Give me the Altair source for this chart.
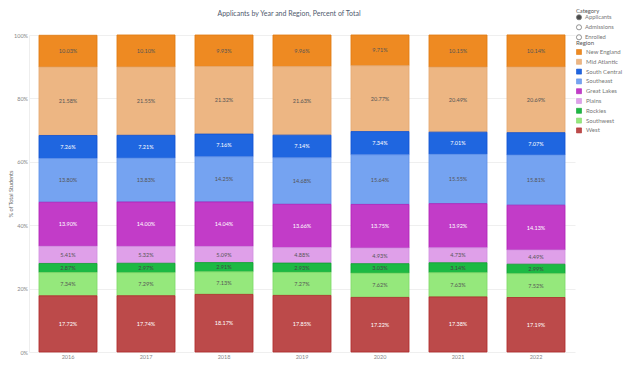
import altair as alt
import pandas as pd

years = ["2016", "2017", "2018", "2019", "2020", "2021", "2022"]
regions = ["New England", "Mid Atlantic", "South Central", "Southeast",
           "Great Lakes", "Plains", "Rockies", "Southwest", "West"]
colors = ["#EE8A22", "#EDB683", "#1F66E0", "#75A3F1", "#C23CC8",
          "#DFA0E9", "#1DB944", "#95E87C", "#BC4A4A"]
borders = ["#E07A10", "#E3A870", "#1050D0", "#6090E8", "#B020B8",
           "#D090E0", "#10A030", "#80D868", "#B02A2A"]
text_colors = ["#555555", "#555555", "#FFFFFF", "#555555", "#FFFFFF",
               "#555555", "#444444", "#555555", "#FFFFFF"]

new_england   = [10.03, 10.10, 9.93, 9.96, 9.71, 10.15, 10.14]
mid_atlantic  = [21.58, 21.55, 21.32, 21.63, 20.77, 20.49, 20.69]
south_central = [7.26, 7.21, 7.16, 7.14, 7.34, 7.01, 7.07]
southeast     = [13.80, 13.83, 14.25, 14.68, 15.64, 15.55, 15.81]
great_lakes   = [13.90, 14.00, 14.04, 13.66, 13.75, 13.92, 14.13]
plains        = [5.41, 5.32, 5.09, 4.88, 4.93, 4.73, 4.49]
rockies       = [2.87, 2.97, 2.91, 2.93, 3.03, 3.14, 2.99]
southwest     = [7.34, 7.29, 7.13, 7.27, 7.62, 7.63, 7.52]
west          = [17.72, 17.74, 18.17, 17.85, 17.22, 17.38, 17.19]

series = [new_england, mid_atlantic, south_central, southeast, great_lakes,
          plains, rockies, southwest, west]

categories = ["Applicants", "Admissions", "Enrolled"]

rows = []
for i, (r, vals) in enumerate(zip(regions, series)):
    for y, v in zip(years, vals):
        rows.append({"year": y, "region": r, "value": v, "ord": i,
                     "tcolor": text_colors[i]})
df = pd.DataFrame(rows)

FONT = "Lato"

base = alt.Chart(df).transform_stack(
    stack="value", groupby=["year"], as_=["y0", "y1"],
    sort=[alt.SortField("ord", order="descending")]
).transform_calculate(
    mid="(datum.y0 + datum.y1) / 2",
    label="format(datum.value, '.2f') + '%'"
)

x_enc = alt.X("year:N", title=None,
              scale=alt.Scale(paddingInner=0.256, paddingOuter=0.128),
              axis=alt.Axis(labelAngle=0, labelFontSize=5.5, labelColor="#888888",
                            ticks=False, domain=False, labelPadding=2, grid=False))

bars = base.mark_bar(strokeWidth=0.8).encode(
    x=x_enc,
    y=alt.Y("y0:Q", title="% of Total Students",
            scale=alt.Scale(domain=[0, 100], nice=False),
            axis=alt.Axis(values=list(range(0, 101, 10)),
                          labelExpr="datum.value + '%'",
                          labelFontSize=5.5, labelColor="#888888",
                          titleFontSize=5.6, titleColor="#666666",
                          titleFontWeight="normal", titlePadding=0,
                          ticks=False, domain=True, domainColor="#eeeeee",
                          gridColor="#efefef", labelPadding=1.5)),
    y2="y1:Q",
    color=alt.Color("region:N", scale=alt.Scale(domain=regions, range=colors),
                    legend=alt.Legend(title="Region", orient="none",
                                      legendX=547, legendY=5,
                                      symbolType="square", symbolSize=25,
                                      labelFontSize=6, labelColor="#777777",
                                      titleFontSize=6, titleColor="#555555",
                                      titleFontWeight="normal", rowPadding=1.8,
                                      titlePadding=3, symbolStrokeWidth=0.6,
                                      labelOffset=4)),
    stroke=alt.Stroke("region:N", scale=alt.Scale(domain=regions, range=borders),
                      legend=None),
)

labels = base.mark_text(fontSize=5.5, font=FONT).encode(
    x=alt.X("year:N"),
    y=alt.Y("mid:Q"),
    text="label:N",
    color=alt.Color("tcolor:N", scale=None),
)

cat_df = pd.DataFrame({"category": categories, "v": [0, 0, 0]})
radio = alt.Chart(cat_df).transform_filter("false").mark_point(
    filled=True, shape="circle", stroke="#444444", strokeWidth=0.8
).encode(
    fill=alt.Fill("category:N",
                  scale=alt.Scale(domain=categories,
                                  range=["#000000", "#ffffff", "#ffffff"]),
                  legend=alt.Legend(title="Category", orient="none",
                                    legendX=547, legendY=-27,
                                    symbolType="circle", symbolSize=26,
                                    symbolStrokeColor="#444444",
                                    symbolStrokeWidth=0.8,
                                    labelFontSize=5.8, labelColor="#777777",
                                    titleFontSize=5.8, titleColor="#555555",
                                    titleFontWeight="normal", rowPadding=0,
                                    titlePadding=0.5, labelOffset=3)),
)

chart = alt.layer(bars, labels, radio).properties(
    width=546, height=317,
    autosize=alt.AutoSizeParams(type="none"),
    padding={"left": 21, "top": 27, "right": 56, "bottom": 10},
    title=alt.TitleParams("Applicants by Year and Region, Percent of Total",
                          fontSize=7, color="#4f5a6e", font=FONT,
                          fontWeight="normal", anchor="middle", dx=-13,
                          offset=-9),
).configure(font=FONT).configure_view(stroke=None)

chart.save("out.html", embed_options={"renderer": "svg", "actions": False})
